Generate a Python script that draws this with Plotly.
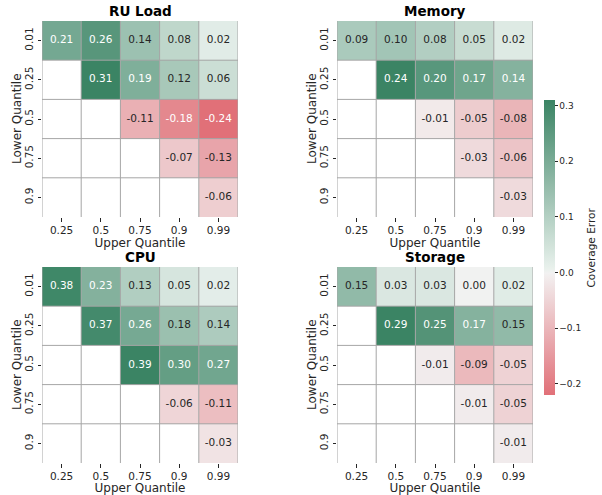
import math
import plotly.graph_objects as go

# ---------------- data ----------------
upper_q = ["0.25", "0.5", "0.75", "0.9", "0.99"]
lower_q = ["0.01", "0.25", "0.5", "0.75", "0.9"]

ru_load = [
    [0.21, 0.26, 0.14, 0.08, 0.02],
    [None, 0.31, 0.19, 0.12, 0.06],
    [None, None, -0.11, -0.18, -0.24],
    [None, None, None, -0.07, -0.13],
    [None, None, None, None, -0.06],
]
memory = [
    [0.09, 0.10, 0.08, 0.05, 0.02],
    [None, 0.24, 0.20, 0.17, 0.14],
    [None, None, -0.01, -0.05, -0.08],
    [None, None, None, -0.03, -0.06],
    [None, None, None, None, -0.03],
]
cpu = [
    [0.38, 0.23, 0.13, 0.05, 0.02],
    [None, 0.37, 0.26, 0.18, 0.14],
    [None, None, 0.39, 0.30, 0.27],
    [None, None, None, -0.06, -0.11],
    [None, None, None, None, -0.03],
]
storage = [
    [0.15, 0.03, 0.03, 0.00, 0.02],
    [None, 0.29, 0.25, 0.17, 0.15],
    [None, None, -0.01, -0.09, -0.05],
    [None, None, None, -0.01, -0.05],
    [None, None, None, None, -0.01],
]
titles = ["RU Load", "Memory", "CPU", "Storage"]
panels = [ru_load, memory, cpu, storage]
cbar_range = (-0.22, 0.31)   # range shown on the colour bar (RU Load panel)

# ---------------- husl colour helpers (seaborn diverging palette) ----------------
M = [[3.2406, -1.5372, -0.4986], [-0.9689, 1.8758, 0.0415], [0.0557, -0.2040, 1.0570]]
REF_U, REF_V = 0.19784, 0.46834


def max_chroma(L, H):
    hrad = math.radians(H)
    sinH, cosH = math.sin(hrad), math.cos(hrad)
    sub1 = (L + 16) ** 3 / 1560896.0
    sub2 = sub1 if sub1 > 0.008856 else L / 903.3
    res = float("inf")
    for m1, m2, m3 in M:
        top = (0.99915 * m1 + 1.05122 * m2 + 1.14460 * m3) * sub2
        rb = 0.86330 * m3 - 0.17266 * m2
        lb = 0.12949 * m3 - 0.38848 * m1
        bottom = (rb * sinH + lb * cosH) * sub2
        for t in (0.0, 1.0):
            C = L * (top - 1.05122 * t) / (bottom + 0.17266 * sinH * t)
            if 0 < C < res:
                res = C
    return res


def husl_to_rgb(h, s, l):
    C = max_chroma(l, h) / 100.0 * s
    hr = math.radians(h)
    U, V = C * math.cos(hr), C * math.sin(hr)
    t = (l + 16.0) / 116.0
    varY = t ** 3 if t ** 3 > 0.008856 else (116 * t - 16) / 903.3
    vu = U / (13.0 * l) + REF_U
    vv = V / (13.0 * l) + REF_V
    Y = varY
    X = -(9.0 * Y * vu) / ((vu - 4.0) * vv - vu * vv)
    Z = (9.0 * Y - 15.0 * vv * Y - vv * X) / (3.0 * vv)
    out = []
    for row in M:
        c = row[0] * X + row[1] * Y + row[2] * Z
        c = 12.92 * c if c <= 0.0031308 else 1.055 * c ** (1 / 2.4) - 0.055
        out.append(min(1.0, max(0.0, c)))
    return out


H_NEG, H_POS, S, L = 10, 150, 75, 50
red = husl_to_rgb(H_NEG, S, L)
red_l = husl_to_rgb(H_NEG, 0.15 * S, 95)
mid = [0.95, 0.95, 0.95]
grn_l = husl_to_rgb(H_POS, 0.15 * S, 95)
grn = husl_to_rgb(H_POS, S, L)
base_stops = [(0.0, red), (127 / 256, red_l), (0.5, mid), (129 / 256, grn_l), (1.0, grn)]


def base_cmap(p):
    p = min(1.0, max(0.0, p))
    for (p0, c0), (p1, c1) in zip(base_stops[:-1], base_stops[1:]):
        if p <= p1:
            f = 0 if p1 == p0 else (p - p0) / (p1 - p0)
            return [c0[i] + f * (c1[i] - c0[i]) for i in range(3)]
    return base_stops[-1][1]


def to_css(c):
    return "rgb(%d,%d,%d)" % tuple(round(255 * v) for v in c)


def lum(c):
    lin = [v / 12.92 if v <= 0.03928 else ((v + 0.055) / 1.055) ** 2.4 for v in c]
    return 0.2126 * lin[0] + 0.7152 * lin[1] + 0.0722 * lin[2]


# ---------------- layout geometry ----------------
W, H = 602, 495
px_x = [(42, 238), (337, 533), (42, 238), (337, 533)]
px_y = [(21, 217), (21, 217), (267, 463), (267, 463)]
CB_TOP, CB_LEN = 100, 295
FONT = "DejaVu Sans"
TXT = "#262626"

fig = go.Figure()
layout = dict(width=W, height=H, margin=dict(l=0, r=0, t=0, b=0),
              paper_bgcolor="white", plot_bgcolor="white", showlegend=False,
              font=dict(family=FONT, color=TXT))
shapes, annotations = [], []

for k, (data, title) in enumerate(zip(panels, titles)):
    sfx = "" if k == 0 else str(k + 1)
    xa, ya = "x" + sfx, "y" + sfx
    vals = [v for row in data for v in row if v is not None]
    vmin, vmax = min(vals), max(vals)
    if k == 0:
        vmin, vmax = cbar_range
    vr = max(abs(vmin), abs(vmax))
    cmin, cmax = (vmin + vr) / (2 * vr), (vmax + vr) / (2 * vr)
    n = 64
    cscale = [[i / (n - 1), to_css(base_cmap(cmin + (cmax - cmin) * i / (n - 1)))] for i in range(n)]

    hm = dict(z=data, x=upper_q, y=lower_q, zmin=vmin, zmax=vmax, colorscale=cscale,
              xaxis=xa, yaxis=ya, hoverongaps=False, showscale=(k == 0))
    if k == 0:
        hm["colorbar"] = dict(
            x=544 / W, xanchor="left", xpad=0, y=1 - CB_TOP / H, yanchor="top", ypad=0,
            len=CB_LEN / H, lenmode="fraction",
            thickness=11, outlinewidth=0, ticks="outside", ticklen=3, tickwidth=0.8,
            tickcolor=TXT, dtick=0.1, tick0=0, tickformat=".1f",
            tickfont=dict(family=FONT, size=9, color=TXT),
        )
    fig.add_trace(go.Heatmap(**hm))

    # cell annotations
    tx, ty, tt, tc = [], [], [], []
    for i, row in enumerate(data):
        for j, v in enumerate(row):
            if v is None:
                continue
            p = (v - vmin) / (vmax - vmin)
            col = base_cmap(cmin + (cmax - cmin) * min(1, max(0, p)))
            tx.append(upper_q[j]); ty.append(lower_q[i]); tt.append("%.2f" % v)
            tc.append(TXT if lum(col) > 0.408 else "white")
    fig.add_trace(go.Scatter(x=tx, y=ty, text=tt, mode="text", xaxis=xa, yaxis=ya,
                             textfont=dict(family=FONT, size=10.5, color=tc), hoverinfo="skip"))

    x0, x1 = px_x[k]
    y0, y1 = px_y[k]
    layout["xaxis" + sfx] = dict(
        domain=[x0 / W, x1 / W], anchor=ya, type="category", range=[-0.5, 4.5],
        ticks="outside", ticklen=3.5, tickwidth=0.8, tickcolor=TXT, showgrid=False,
        zeroline=False, showline=False, tickfont=dict(family=FONT, size=10.5, color=TXT),
        title=dict(text="Upper Quantile", standoff=1, font=dict(family=FONT, size=12, color=TXT)),
    )
    layout["yaxis" + sfx] = dict(
        domain=[1 - y1 / H, 1 - y0 / H], anchor=xa, type="category", range=[4.5, -0.5],
        ticks="outside", ticklen=3.5, tickwidth=0.8, tickcolor=TXT, showgrid=False,
        zeroline=False, showline=False, tickangle=-90,
        tickfont=dict(family=FONT, size=10.5, color=TXT),
    )
    annotations.append(dict(text="<b>%s</b>" % title, x=(x0 + x1) / 2 / W, y=1 - (y0 - 10) / H,
                            xref="paper", yref="paper", xanchor="center", yanchor="middle",
                            showarrow=False, font=dict(family=FONT, size=13.5, color="black")))
    annotations.append(dict(text="Lower Quantile", x=(x0 - 25) / W, y=1 - (y0 + y1) / 2 / H,
                            xref="paper", yref="paper", xanchor="center", yanchor="middle",
                            textangle=-90, showarrow=False,
                            font=dict(family=FONT, size=12, color=TXT)))
    # cell grid lines
    nx, ny = len(upper_q), len(lower_q)
    for b in range(nx + 1):
        shapes.append(dict(type="line", xref=xa, yref=ya, x0=b - 0.5, x1=b - 0.5, y0=-0.5, y1=ny - 0.5,
                           line=dict(color="#a6a6a6", width=1), layer="above"))
    for b in range(1, ny):
        shapes.append(dict(type="line", xref=xa, yref=ya, x0=-0.5, x1=nx - 0.5, y0=b - 0.5, y1=b - 0.5,
                           line=dict(color="#a6a6a6", width=1), layer="above"))

annotations.append(dict(text="Coverage Error", x=590 / W, y=1 - (CB_TOP + CB_LEN / 2) / H,
                        xref="paper", yref="paper", xanchor="center", yanchor="middle",
                        textangle=-90, showarrow=False, font=dict(family=FONT, size=10.5, color=TXT)))
layout["shapes"] = shapes
layout["annotations"] = annotations
fig.update_layout(**layout)
fig.write_html("out.html")
